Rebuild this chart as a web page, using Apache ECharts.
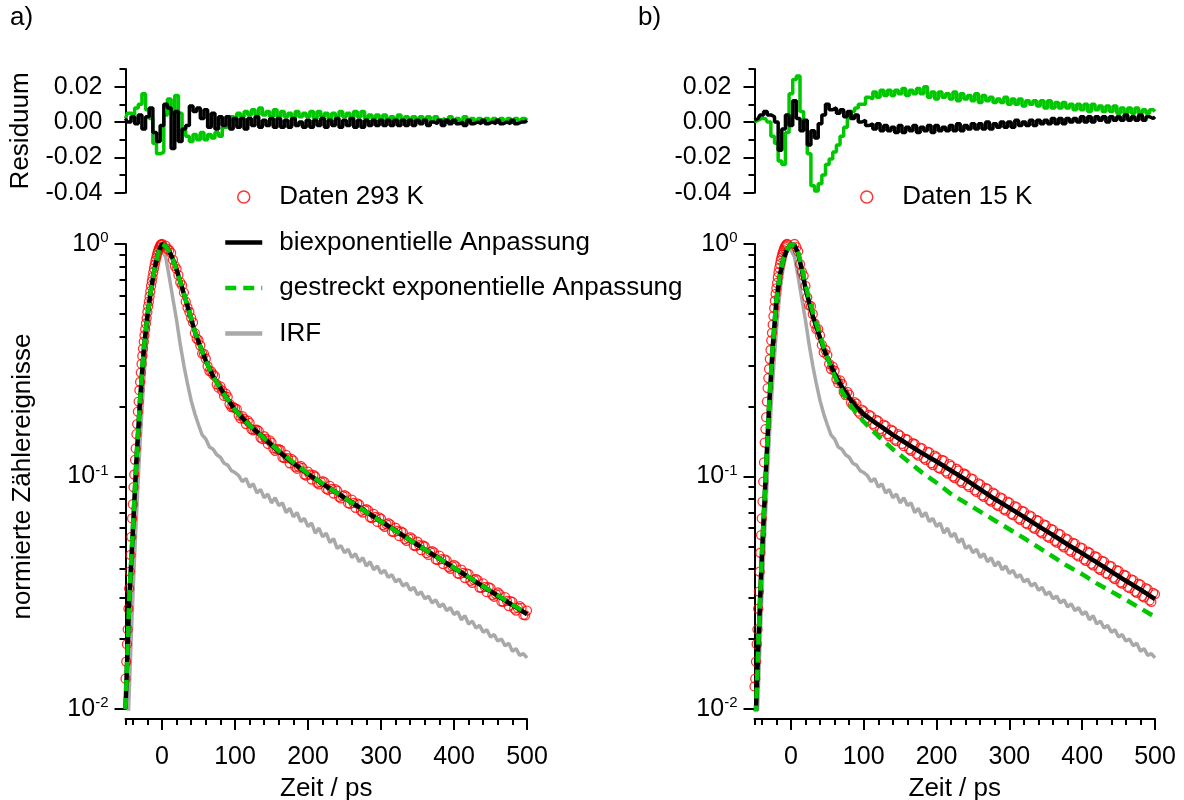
<!DOCTYPE html>
<html><head><meta charset="utf-8">
<script src="https://cdn.jsdelivr.net/npm/echarts@6/dist/echarts.min.js"></script>
<style>html,body{margin:0;padding:0;background:#fff}#c{width:1184px;height:800px}</style>
</head><body><div id="c"></div>
<script>
// ---------- time grids ----------
const dataTimes = [-50,-48,-46,-44,-42,-40,-38,-36,-34,-32,-30,-28,-26,-24,-22,-20,-18,-16,-14,-12,-10,-8,-6,-4,-2,0,
  5,10,15,20,25,30,35,40,45,50,55,60,65,70,75,80,85,90,95,100,
  105,110,115,120,125,130,135,140,145,150,155,160,165,170,175,180,185,190,195,200,
  205,210,215,220,225,230,235,240,245,250,255,260,265,270,275,280,285,290,295,300,
  305,310,315,320,325,330,335,340,345,350,355,360,365,370,375,380,385,390,395,400,
  405,410,415,420,425,430,435,440,445,450,455,460,465,470,475,480,485,490,495,500];
const dataTimes2 = [-49,-47,-45,-43,-41,-39,-37,-35,-33,-31,-29,-27,-25,-23,-21,-19,-17,-15,-13,-11,-9,-7,-5,-3,-1,
  2.5,7.5,12.5,17.5,22.5,27.5,32.5,37.5,42.5,47.5,52.5,57.5,62.5,67.5,72.5,77.5,82.5,87.5,92.5,97.5,
  102.5,107.5,112.5,117.5,122.5,127.5,132.5,137.5,142.5,147.5,152.5,157.5,162.5,167.5,172.5,177.5,182.5,187.5,192.5,197.5,
  202.5,207.5,212.5,217.5,222.5,227.5,232.5,237.5,242.5,247.5,252.5,257.5,262.5,267.5,272.5,277.5,282.5,287.5,292.5,297.5,
  302.5,307.5,312.5,317.5,322.5,327.5,332.5,337.5,342.5,347.5,352.5,357.5,362.5,367.5,372.5,377.5,382.5,387.5,392.5,397.5,
  402.5,407.5,412.5,417.5,422.5,427.5,432.5,437.5,442.5,447.5,452.5,457.5,462.5,467.5,472.5,477.5,482.5,487.5,492.5,497.5];
const grid5 = [-50,-45,-40,-35,-30,-25,-20,-15,-10,-5,
  0,5,10,15,20,25,30,35,40,45, 50,55,60,65,70,75,80,85,90,95,
  100,105,110,115,120,125,130,135,140,145, 150,155,160,165,170,175,180,185,190,195,
  200,205,210,215,220,225,230,235,240,245, 250,255,260,265,270,275,280,285,290,295,
  300,305,310,315,320,325,330,335,340,345, 350,355,360,365,370,375,380,385,390,395,
  400,405,410,415,420,425,430,435,440,445, 450,455,460,465,470,475,480,485,490,495, 500];
const fitTimes = [-50,-45,-40,-35,-30,-25,-20,-15,-10,-5,0,5,10,15,20,25,30,35,40,45,50,60,70,80,90,100,
  120,140,160,180,200,220,240,260,280,300,320,340,360,380,400,420,440,460,480,500];

// ---------- measured data (normalised counts) ----------
const daten293 = [0.0135,0.019,0.027,0.039,0.055,0.076,0.102,0.132,0.168,0.21,0.255,0.305,0.355,0.405,0.455,0.51,0.565,0.625,0.69,0.755,0.815,0.87,0.92,0.96,0.99,1.0,
  0.985,0.94,0.855,0.782,0.684,0.618,0.532,0.481,0.414,0.386,0.338,0.321,0.284,0.275,0.249,0.244,0.222,0.22,0.199,0.197,
  0.183,0.182,0.168,0.17,0.158,0.159,0.147,0.149,0.138,0.14,0.129,0.131,0.121,0.124,0.114,0.117,0.108,0.111,0.102,0.105,
  0.097,0.1,0.0925,0.0955,0.0885,0.0912,0.0845,0.087,0.0805,0.0832,0.0768,0.0795,0.0733,0.0758,0.07,0.0724,0.0668,0.069,0.0638,0.0658,
  0.0608,0.063,0.058,0.0602,0.0554,0.0574,0.0529,0.0549,0.0505,0.0524,0.0482,0.05,0.046,0.0478,0.044,0.0457,0.042,0.0436,0.0401,0.0417,
  0.0383,0.0398,0.0366,0.038,0.0349,0.0363,0.0333,0.0347,0.0318,0.0331,0.0304,0.0317,0.029,0.0303,0.0277,0.0289,0.0265,0.0277,0.0254,0.0265];
const daten293b = [0.016,0.022,0.033,0.046,0.066,0.09,0.118,0.152,0.19,0.235,0.28,0.33,0.38,0.43,0.48,0.54,0.595,0.66,0.72,0.785,0.845,0.895,0.94,0.975,0.995,
  1.005,0.955,0.915,0.805,0.735,0.665,0.565,0.51,0.46,0.392,
  0.366,0.337,0.298,0.283,0.27,0.241,0.234,0.227,0.205,0.199,
  0.195,0.178,0.177,0.174,0.16,0.159,0.157,0.145,0.145,0.143,
  0.132,0.131,0.13,0.12,0.12,0.119,0.11,0.11,0.109,0.101,
  0.102,0.1015,0.094,0.0945,0.0945,0.0875,0.0885,0.0882,0.0818,0.0826,
  0.0822,0.0762,0.077,0.0767,0.0712,0.0718,0.0715,0.0663,0.067,0.0667,
  0.0618,0.0624,0.0622,0.0576,0.0583,0.058,0.0538,0.0543,0.0541,0.0502,
  0.0507,0.0505,0.0468,0.0474,0.0472,0.0437,0.0441,0.044,0.0408,0.0412,
  0.0411,0.038,0.0385,0.0383,0.0356,0.0359,0.0358,0.0332,0.0335,0.0334,
  0.0309,0.0312,0.0311,0.0289,0.0292,0.0291,0.027,0.0272,0.0272,0.0253];
const daten15 = [0.0125,0.016,0.022,0.032,0.047,0.066,0.095,0.14,0.18,0.24,0.29,0.35,0.415,0.49,0.57,0.645,0.72,0.79,0.85,0.9,0.94,0.975,0.995,1.01,1.02,1.02,
  1.0,0.93,0.76,0.66,0.545,0.5,0.43,0.405,0.342,0.333,0.29,0.285,0.252,0.25,0.224,0.225,0.203,0.206,0.186,0.191,
  0.174,0.182,0.165,0.173,0.157,0.165,0.149,0.157,0.142,0.15,0.135,0.144,0.129,0.138,0.123,0.132,0.118,0.127,0.112,0.121,
  0.108,0.117,0.103,0.111,0.0985,0.106,0.094,0.102,0.09,0.0975,0.0858,0.0925,0.0818,0.0885,0.078,0.0842,0.0745,0.0806,0.0713,0.0772,
  0.0682,0.0738,0.0651,0.0706,0.0622,0.0674,0.0595,0.0645,0.0569,0.0617,0.0544,0.059,0.052,0.0564,0.0496,0.0537,0.0474,0.0514,0.0453,0.0492,
  0.0434,0.047,0.0415,0.045,0.0396,0.043,0.0379,0.0411,0.0362,0.0393,0.0346,0.0375,0.0331,0.0358,0.0316,0.0343,0.0302,0.0328,0.0289,0.0312];
const daten15b = [0.0135,0.019,0.027,0.039,0.056,0.078,0.115,0.16,0.21,0.265,0.32,0.385,0.45,0.53,0.61,0.68,0.755,0.82,0.875,0.92,0.96,0.985,1.0,1.015,1.025,
  1.03,0.97,0.82,0.73,0.59,0.54,0.455,0.43,0.368,0.35,
  0.305,0.297,0.262,0.259,0.231,0.231,0.208,0.209,0.19,0.194,
  0.178,0.184,0.168,0.175,0.16,0.167,0.152,0.159,0.144,0.152,
  0.138,0.145,0.131,0.139,0.125,0.133,0.12,0.128,0.114,0.123,
  0.109,0.118,0.105,0.113,0.1,0.108,0.0955,0.103,0.0915,0.0982,
  0.0872,0.0935,0.0829,0.0893,0.0792,0.0852,0.0756,0.0814,0.0723,0.0779,
  0.069,0.0745,0.066,0.0712,0.063,0.0681,0.0603,0.065,0.0578,0.0622,
  0.0552,0.0595,0.0528,0.0568,0.0505,0.0542,0.0481,0.0518,0.046,0.0496,
  0.044,0.0475,0.0421,0.0454,0.0402,0.0434,0.0384,0.0414,0.0367,0.0396,
  0.035,0.0378,0.0335,0.0361,0.032,0.0346,0.0306,0.0331,0.0293,0.0316];
const irf = [0.004,0.006,0.0095,0.014,0.021,0.03,0.042,0.058,0.078,0.105,0.14,0.18,0.23,0.285,0.345,0.42,0.5,0.58,0.66,0.74,0.8,0.86,0.91,0.95,0.97,0.96,
  0.88,0.72,0.58,0.47,0.37,0.3,0.25,0.212,0.186,0.167,0.151,0.145,0.134,0.131,0.124,0.121,0.114,0.112,0.106,0.104,
  0.101,0.095,0.098,0.09,0.093,0.085,0.088,0.081,0.084,0.077,0.081,0.075,0.077,0.07,0.073,0.067,0.07,0.064,0.066,0.061,
  0.063,0.057,0.06,0.055,0.057,0.052,0.054,0.049,0.0505,0.047,0.0487,0.0448,0.0465,0.043,0.0447,0.0412,0.043,0.0397,0.0412,0.0383,
  0.0395,0.0368,0.0378,0.0352,0.0362,0.0338,0.0348,0.0324,0.0334,0.031,0.0319,0.0298,0.0306,0.0286,0.0295,0.0275,0.0283,0.0265,0.0273,0.0255,
  0.0262,0.0242,0.0252,0.0232,0.0239,0.0223,0.0229,0.0214,0.0219,0.0204,0.0209,0.0196,0.02,0.0187,0.0192,0.0177,0.0182,0.017,0.0173,0.0166];

// ---------- fits ----------
const biexpA = [0.010,0.029,0.058,0.118,0.215,0.35,0.49,0.64,0.79,0.92,1.0,0.98,0.93,0.86,0.775,0.69,0.61,0.54,0.475,0.42,0.38,
  0.315,0.27,0.24,0.215,0.193,0.166,0.146,0.128,0.114,0.1025,0.093,0.0848,0.0773,0.0704,0.0641,0.0585,0.0533,0.0486,0.0443,0.0404,0.0369,0.0336,0.0307,0.028,0.0256];
const stretchA = [0.010,0.029,0.058,0.118,0.215,0.35,0.49,0.64,0.79,0.92,1.0,0.978,0.925,0.855,0.772,0.69,0.612,0.542,0.478,0.422,0.38,
  0.314,0.269,0.239,0.214,0.193,0.166,0.146,0.129,0.115,0.103,0.0932,0.0848,0.0772,0.0703,0.064,0.0584,0.0532,0.0486,0.0443,0.0405,0.037,0.0337,0.0308,0.0281,0.0257];
const biexpB = [0.0065,0.018,0.045,0.095,0.2,0.36,0.57,0.74,0.87,0.95,0.995,0.99,0.91,0.775,0.645,0.56,0.49,0.44,0.395,0.355,0.325,
  0.277,0.243,0.218,0.199,0.185,0.167,0.151,0.138,0.126,0.116,0.106,0.097,0.088,0.080,0.0733,0.067,0.0612,0.056,0.051,0.0467,0.0427,0.039,0.0356,0.0326,0.0297];
const stretchB = [0.0065,0.018,0.045,0.095,0.2,0.36,0.57,0.74,0.87,0.95,0.995,0.99,0.92,0.79,0.67,0.58,0.51,0.455,0.405,0.36,0.325,
  0.27,0.232,0.206,0.187,0.172,0.149,0.131,0.117,0.104,0.094,0.0841,0.077,0.0706,0.0647,0.0593,0.0543,0.0496,0.0452,0.0412,0.038,0.0347,0.032,0.0295,0.0271,0.0249];

// ---------- residuals ----------
const resStretchA = [0.002,0.005,0.004,0.008,0.010,0.016,0.007,0.002,-0.012,-0.018,
  -0.017,0.004,0.013,0.005,0.015,0.005,-0.005,-0.008,-0.011,-0.007,
  -0.010,-0.006,-0.010,-0.007,-0.009,-0.006,-0.008,-0.003,-0.002,0.003,
  0.002,0.005,0.003,0.006,0.004,0.007,0.004,0.008,0.004,0.006,
  0.003,0.007,0.003,0.006,0.003,0.005,0.002,0.006,0.003,0.005,
  0.003,0.006,0.002,0.006,0.003,0.005,0.002,0.005,0.003,0.006,
  0.003,0.005,0.002,0.006,0.003,0.006,0.002,0.004,0.002,0.004,
  0.001,0.004,0.001,0.003,0.001,0.004,0.001,0.003,0.001,0.003,
  0.000,0.003,0.001,0.003,0.000,0.003,0.001,0.002,0.000,0.003,
  0.000,0.002,0.000,0.003,0.000,0.002,0.000,0.002,0.000,0.002,
  0.000,0.002,0.000,0.002,0.000,0.002,0.000,0.002,0.000,0.002, 0.001];
const resBiexpA = [0.002,0.000,0.003,-0.001,0.004,-0.004,0.003,0.008,-0.006,-0.011,
  -0.002,0.010,0.008,-0.015,0.006,-0.011,-0.004,-0.002,0.009,0.006,
  0.008,0.002,0.007,-0.003,0.005,-0.004,0.003,-0.002,0.003,-0.004,
  0.002,-0.003,0.002,-0.004,0.002,-0.002,0.003,-0.003,0.001,-0.002,
  0.002,-0.003,0.002,-0.003,0.001,-0.003,0.002,-0.002,0.000,-0.003,
  0.001,-0.003,0.001,-0.002,0.002,-0.003,0.001,-0.002,0.002,-0.003,
  0.001,-0.002,0.002,-0.003,0.001,-0.003,0.001,-0.002,0.001,-0.002,
  0.001,-0.002,0.001,-0.002,0.001,-0.002,0.001,-0.002,0.001,-0.002,
  0.001,-0.001,0.001,-0.002,0.000,-0.001,0.001,-0.002,0.001,-0.001,
  0.001,-0.001,0.000,-0.002,0.001,-0.001,0.000,-0.001,0.001,-0.001,
  0.000,-0.001,0.001,-0.001,0.000,-0.001,0.001,-0.001,0.000,0.000, 0.001];
const resStretchB = [0.000,0.001,0.002,0.002,0.000,-0.008,-0.012,-0.022,-0.024,-0.006,
  0.016,0.024,0.026,0.006,-0.004,-0.018,-0.036,-0.039,-0.035,-0.030,
  -0.024,-0.021,-0.017,-0.013,-0.008,-0.003,0.002,0.006,0.008,0.010,
  0.010,0.014,0.013,0.017,0.014,0.018,0.015,0.018,0.015,0.018,
  0.016,0.019,0.015,0.018,0.016,0.019,0.016,0.020,0.014,0.017,
  0.013,0.017,0.014,0.016,0.013,0.017,0.012,0.016,0.013,0.015,
  0.012,0.016,0.011,0.015,0.012,0.014,0.011,0.013,0.011,0.014,
  0.010,0.013,0.010,0.013,0.009,0.012,0.010,0.012,0.009,0.012,
  0.008,0.012,0.008,0.011,0.008,0.011,0.008,0.010,0.007,0.010,
  0.007,0.010,0.006,0.010,0.007,0.009,0.006,0.009,0.006,0.009,
  0.005,0.008,0.005,0.008,0.005,0.008,0.005,0.007,0.005,0.007, 0.006];
const resBiexpB = [0.001,0.002,0.004,0.006,0.004,0.003,0.000,-0.016,-0.004,0.004,
  -0.002,0.012,0.002,-0.005,0.001,-0.013,-0.005,-0.009,-0.001,0.004,
  0.010,0.007,0.008,0.005,0.007,0.003,0.006,0.002,0.004,0.000,
  0.001,-0.002,-0.001,-0.004,-0.001,-0.005,-0.002,-0.005,-0.003,-0.006,
  -0.002,-0.006,-0.003,-0.005,-0.002,-0.006,-0.003,-0.005,-0.002,-0.006,
  -0.002,-0.005,-0.003,-0.005,-0.002,-0.005,-0.001,-0.005,-0.002,-0.004,
  -0.001,-0.004,-0.001,-0.004,0.000,-0.004,-0.001,-0.003,0.000,-0.003,
  0.000,-0.003,0.001,-0.002,0.000,-0.002,0.001,-0.002,0.001,-0.001,
  0.001,-0.001,0.002,-0.001,0.002,-0.001,0.002,0.000,0.002,0.000,
  0.003,0.000,0.003,0.000,0.003,0.001,0.003,0.000,0.003,0.001,
  0.003,0.001,0.004,0.001,0.003,0.001,0.004,0.001,0.003,0.002, 0.003];

// ---------- tick positions ----------
const xMajorTicks = [0,100,200,300,400,500];
const xMinorTicks = [-50,-40,-20,20,40,60,80,120,140,160,180,220,240,260,280,320,340,360,380,420,440,460,480];
const resMajorTicks = [-0.04,-0.02,0,0.02];
const resMinorTicks = [-0.03,-0.01,0.01,0.03];
const logDecades = [-2,-1];
const logMinorFactors = [2,3,4,5,6,7,8,9];

// ---------- styling ----------
const FONT = 'Liberation Sans, Arial, Helvetica, sans-serif';
const RED = '#ff0000', GREEN = '#00c800', GRAY = '#a9a9a9', BLACK = '#000000';
const axisLine = {color: BLACK, width: 2};
const zip = (t, v) => t.map((x, i) => [x, v[i]]);
const logMinorPos = [];
logDecades.forEach(d => logMinorFactors.forEach(k => logMinorPos.push(d + Math.log10(k))));

const panels = [
  {left: 125.5, width: 401.5, name: 'Daten 293 K', data: daten293, data2: daten293b, bi: biexpA, st: stretchA, rs: resStretchA, rb: resBiexpA, first: true},
  {left: 754.5, width: 400.5, name: 'Daten 15 K', data: daten15, data2: daten15b, bi: biexpB, st: stretchB, rs: resStretchB, rb: resBiexpB, first: false}
];

const grid = [], xAxis = [], yAxis = [], series = [];
panels.forEach((p, pi) => {
  const gRes = grid.length;
  grid.push({left: p.left, width: p.width, top: 69, height: 123.7, outerBoundsMode: 'none', containLabel: false});
  const gMain = grid.length;
  grid.push({left: p.left, width: p.width, top: 244, height: 465, outerBoundsMode: 'none', containLabel: false});

  const xRes = xAxis.length;
  xAxis.push({type: 'value', gridIndex: gRes, min: -50, max: 500, show: false});
  const xMain = xAxis.length;
  xAxis.push({type: 'value', gridIndex: gMain, min: -50, max: 500, position: 'bottom', offset: 10,
    splitLine: {show: false},
    axisLine: {show: true, onZero: false, lineStyle: axisLine},
    axisTick: {show: true, inside: false, length: 11, lineStyle: axisLine, customValues: xMajorTicks},
    axisLabel: {show: true, customValues: xMajorTicks, margin: 26, color: BLACK, fontSize: 25, fontFamily: FONT},
    name: 'Zeit / ps', nameLocation: 'middle', nameGap: 57,
    nameTextStyle: {color: BLACK, fontSize: 26, fontFamily: FONT}});
  xAxis.push({type: 'value', gridIndex: gMain, min: -50, max: 500, position: 'bottom', offset: 10,
    splitLine: {show: false}, axisLine: {show: false, onZero: false},
    axisTick: {show: true, inside: false, length: 6, lineStyle: axisLine, customValues: xMinorTicks},
    axisLabel: {show: false}});

  const yRes = yAxis.length;
  yAxis.push({type: 'value', gridIndex: gRes, min: -0.04, max: 0.03, position: 'left',
    splitLine: {show: false},
    axisLine: {show: true, onZero: false, lineStyle: axisLine},
    axisTick: {show: true, inside: false, length: 11, lineStyle: axisLine, customValues: resMajorTicks},
    axisLabel: {show: true, customValues: resMajorTicks, margin: 23, color: BLACK, fontSize: 25, fontFamily: FONT,
      formatter: v => v.toFixed(2)},
    name: p.first ? 'Residuum' : '', nameLocation: 'middle', nameGap: 92, nameRotate: 90,
    nameTextStyle: {color: BLACK, fontSize: 26, fontFamily: FONT}});
  yAxis.push({type: 'value', gridIndex: gRes, min: -0.04, max: 0.03, position: 'left',
    splitLine: {show: false}, axisLine: {show: false, onZero: false},
    axisTick: {show: true, inside: false, length: 6, lineStyle: axisLine, customValues: resMinorTicks},
    axisLabel: {show: false}});
  const yMain = yAxis.length;
  yAxis.push({type: 'log', logBase: 10, gridIndex: gMain, min: 0.01, max: 1, position: 'left',
    splitLine: {show: false}, minorTick: {show: false},
    axisLine: {show: true, onZero: false, lineStyle: axisLine},
    axisTick: {show: true, inside: false, length: 11, lineStyle: axisLine},
    axisLabel: {show: true, margin: 17,
      formatter: v => '{b|10}{s|' + Math.round(Math.log10(v)) + '}',
      rich: {b: {fontSize: 25, fontFamily: FONT, color: BLACK},
             s: {fontSize: 15, fontFamily: FONT, color: BLACK, padding: [0, 0, 12, 0]}}},
    name: p.first ? 'normierte Zählereignisse' : '', nameLocation: 'middle', nameGap: 90, nameRotate: 90,
    nameTextStyle: {color: BLACK, fontSize: 26, fontFamily: FONT}});
  yAxis.push({type: 'value', gridIndex: gMain, min: -2, max: 0, position: 'left',
    splitLine: {show: false}, axisLine: {show: false, onZero: false},
    axisTick: {show: true, inside: false, length: 6, lineStyle: axisLine, customValues: logMinorPos},
    axisLabel: {show: false}});

  // residuals
  series.push({type: 'line', name: 'res_st_' + pi, xAxisIndex: xRes, yAxisIndex: yRes, data: zip(grid5, p.rs),
    step: 'middle', symbol: 'none', lineStyle: {color: GREEN, width: 3.5}, itemStyle: {color: GREEN}, z: 2});
  series.push({type: 'line', name: 'res_bi_' + pi, xAxisIndex: xRes, yAxisIndex: yRes, data: zip(grid5, p.rb),
    step: 'middle', symbol: 'none', lineStyle: {color: BLACK, width: 3.5}, itemStyle: {color: BLACK}, z: 3});
  // main
  series.push({type: 'line', name: 'IRF', xAxisIndex: xMain, yAxisIndex: yMain, data: zip(dataTimes, irf),
    symbol: 'none', lineStyle: {color: GRAY, width: 3.5}, itemStyle: {color: GRAY}, z: 2});
  const circleStyle = {color: 'rgba(255,255,255,0)', borderColor: RED, borderWidth: 1.3};
  series.push({type: 'scatter', name: p.name, xAxisIndex: xMain, yAxisIndex: yMain, data: zip(dataTimes, p.data),
    symbol: 'circle', symbolSize: 9, itemStyle: circleStyle, z: 3});
  series.push({type: 'scatter', name: p.name, xAxisIndex: xMain, yAxisIndex: yMain, data: zip(dataTimes2, p.data2),
    symbol: 'circle', symbolSize: 9, itemStyle: circleStyle, z: 3});
  series.push({type: 'line', name: 'biexponentielle Anpassung', xAxisIndex: xMain, yAxisIndex: yMain, data: zip(fitTimes, p.bi),
    symbol: 'none', lineStyle: {color: BLACK, width: 4.5}, itemStyle: {color: BLACK}, z: 4});
  series.push({type: 'line', name: 'gestreckt exponentielle Anpassung', xAxisIndex: xMain, yAxisIndex: yMain, data: zip(fitTimes, p.st),
    symbol: 'none', lineStyle: {color: GREEN, width: 4.5, type: [11, 7]}, itemStyle: {color: GREEN}, z: 5});
});

const legendText = {fontSize: 26, fontFamily: FONT, color: BLACK, lineHeight: 30, padding: [0, 0, 0, 12]};
const circleItem = name => ({name, icon: 'circle', itemStyle: {color: 'rgba(255,255,255,0)', borderColor: RED, borderWidth: 1.5}});
const lineItem = name => ({name, itemStyle: {color: 'rgba(0,0,0,0)', borderColor: 'rgba(0,0,0,0)', borderWidth: 0, opacity: 0}});

const option = {
  animation: false,
  backgroundColor: '#ffffff',
  grid, xAxis, yAxis, series,
  legend: [
    {left: 223, top: 182, orient: 'vertical', itemWidth: 37, itemHeight: 12, itemGap: 15.5, padding: 0,
     selectedMode: false, textStyle: legendText, lineStyle: {width: 4.5},
     data: [circleItem('Daten 293 K'), lineItem('biexponentielle Anpassung'), lineItem('gestreckt exponentielle Anpassung'), lineItem('IRF')]},
    {left: 860, top: 182, orient: 'vertical', itemWidth: 37, itemHeight: 12, padding: 0,
     selectedMode: false, textStyle: legendText, data: [circleItem('Daten 15 K')]}
  ],
  graphic: [
    {type: 'text', left: 10, top: 5, style: {text: 'a)', font: '26px ' + FONT, fill: BLACK}},
    {type: 'text', left: 638, top: 5, style: {text: 'b)', font: '26px ' + FONT, fill: BLACK}}
  ]
};
const chart = echarts.init(document.getElementById('c'), null, {renderer: 'canvas'});
chart.setOption(option);
</script>
</body></html>
